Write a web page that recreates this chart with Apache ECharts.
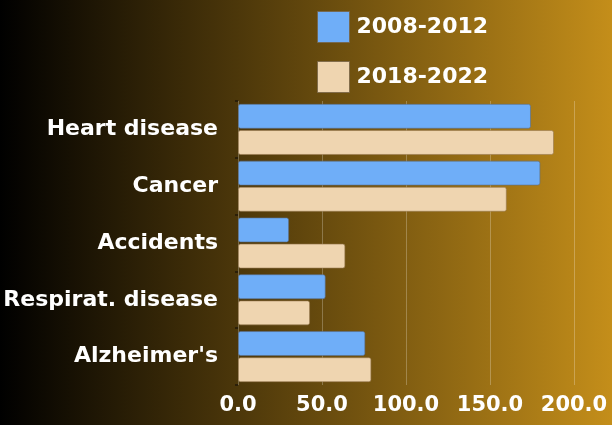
<!DOCTYPE html>
<html><head><meta charset="utf-8">
<script src="https://cdn.jsdelivr.net/npm/echarts@6/dist/echarts.min.js"></script>
<style>html,body{margin:0;padding:0;}#c{width:612px;height:425px;}</style>
</head><body><div id="c"></div>
<script>
const categories = ["Heart disease", "Cancer", "Accidents", "Respirat. disease", "Alzheimer's"];
const series2008 = [174.4, 180.0, 30.4, 52.2, 75.8];
const series2018 = [188.1, 160.0, 63.9, 42.9, 79.4];
const seriesNames = ["2008-2012", "2018-2022"];

const chart = echarts.init(document.getElementById('c'));
const font = "'DejaVu Sans', sans-serif";
chart.setOption({
  backgroundColor: new echarts.graphic.LinearGradient(0, 0, 1, 0, [
    {offset: 0, color: '#000000'},
    {offset: 1, color: '#C48E1A'}
  ]),
  animation: false,
  legend: {
    orient: 'vertical', left: 312, top: 6, icon: 'rect',
    itemWidth: 32, itemHeight: 31, itemGap: 18,
    textStyle: {color: '#ffffff', fontSize: 22, fontWeight: 'bold', fontFamily: font, padding: [0,0,0,2]},
    itemStyle: {borderColor: 'rgba(120,100,70,0.8)', borderWidth: 1}
  },
  grid: {left: 238, right: 38, top: 101, bottom: 40},
  xAxis: {
    type: 'value', min: 0, max: 200, interval: 50,
    axisLine: {show: false}, axisTick: {show: false},
    splitLine: {lineStyle: {color: 'rgba(255,255,255,0.25)', width: 1}},
    axisLabel: {color: '#ffffff', fontSize: 21, fontWeight: 'bold', fontFamily: font, margin: 10,
      formatter: v => v.toFixed(1)}
  },
  yAxis: {
    type: 'category', data: categories, inverse: true,
    axisLine: {show: false},
    axisTick: {show: true, length: 3, lineStyle: {color: '#2a1e08', width: 2}},
    axisLabel: {color: '#ffffff', fontSize: 22, fontWeight: 'bold', fontFamily: font, margin: 20}
  },
  series: [
    {name: seriesNames[0], type: 'bar', data: series2008, barCategoryGap: '10%', barGap: '5%',
     itemStyle: {color: '#6FAEF8', borderColor: 'rgba(90,110,140,0.6)', borderWidth: 1, borderRadius: 2}},
    {name: seriesNames[1], type: 'bar', data: series2018,
     itemStyle: {color: '#EFD5B0', borderColor: 'rgba(150,120,80,0.6)', borderWidth: 1, borderRadius: 2}}
  ]
});
</script></body></html>
